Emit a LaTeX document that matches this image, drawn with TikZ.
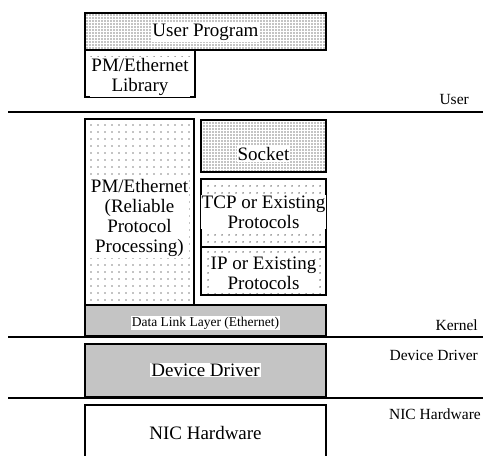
\documentclass[tikz,border=0pt]{standalone}
\usepackage{fontspec}
\setmainfont{Liberation Serif}
\usetikzlibrary{patterns.meta}
\begin{document}
\begin{tikzpicture}[x=1pt,y=-1pt,
  box/.style={draw=black,line width=1.4pt,rectangle,inner sep=0pt},
  finedots/.style={pattern={Dots[distance=3pt,radius=0.7pt]},pattern color=black},
  sparsedots/.style={pattern={Dots[distance=6.5pt,radius=0.7pt]},pattern color=black},
  darkdots/.style={pattern={Dots[distance=2pt,radius=0.72pt]},pattern color=black},
  lbl/.style={fill=white,inner sep=1pt,font=\fontsize{19}{20}\selectfont,align=center},
  side/.style={anchor=base east,inner sep=0pt,font=\fontsize{15.5}{17}\selectfont},
  sep/.style={line width=1.4pt}]
\useasboundingbox (0,0) rectangle (483,456);
% boxes
\node[box,finedots,minimum width=241pt,minimum height=37pt] (userprog) at (205.5,31.5) {};
\node[box,sparsedots,minimum width=110pt,minimum height=47pt] (lib) at (140,73.5) {};
\node[box,sparsedots,minimum width=109pt,minimum height=186pt] (pme) at (139.5,212) {};
\node[box,finedots,minimum width=125pt,minimum height=52pt] (socket) at (263.5,146) {};
\node[box,sparsedots,minimum width=125pt,minimum height=68pt] (tcp) at (263.5,213) {};
\node[box,sparsedots,minimum width=125pt,minimum height=48pt] (ip) at (263.5,271) {};
\node[box,darkdots,minimum width=241pt,minimum height=31pt] (dll) at (205.5,320.5) {};
\node[box,darkdots,minimum width=241pt,minimum height=53pt] (dd) at (205.5,370.5) {};
\coordinate (nicbl) at (85,462);
\coordinate (nictl) at (85,405);
\coordinate (nictr) at (326,405);
\coordinate (nicbr) at (326,462);
\draw[line width=1.4pt] (nicbl) -- (nictl) -- (nictr) -- (nicbr);
% texts
\node[lbl] (tuser) at (205.5,32.5) {User Program};
\node[lbl] (tlib) at (140,77) {PM/Ethernet\\Library};
\node[lbl] (tpme) at (139.5,218) {PM/Ethernet\\(Reliable\\Protocol\\Processing)};
\node[lbl] (tsock) at (263.5,154) {Socket};
\node[lbl] (ttcp) at (263.5,212) {TCP or Existing\\Protocols};
\node[lbl] (tip) at (263.5,273) {IP or Existing\\Protocols};
\node[lbl,font=\fontsize{13.5}{15}\selectfont] (tdll) at (205.5,323) {Data Link Layer (Ethernet)};
\node[lbl] (tdd) at (205.5,370) {Device Driver};
\node[lbl] (tnic) at (205.5,433) {NIC Hardware};
% separators
\coordinate (s1a) at (8,112); \coordinate (s1b) at (483,112);
\coordinate (s2a) at (8,337); \coordinate (s2b) at (483,337);
\coordinate (s3a) at (8,398); \coordinate (s3b) at (483,398);
\draw[sep] (s1a) -- (s1b);
\draw[sep] (s2a) -- (s2b);
\draw[sep] (s3a) -- (s3b);
% side labels
\node[side] (luser) at (469,104) {User};
\node[side] (lkern) at (478,330) {Kernel};
\node[side] (ldd) at (478,360) {Device Driver};
\node[side] (lnic) at (481,419) {NIC Hardware};
\end{tikzpicture}
\end{document}
